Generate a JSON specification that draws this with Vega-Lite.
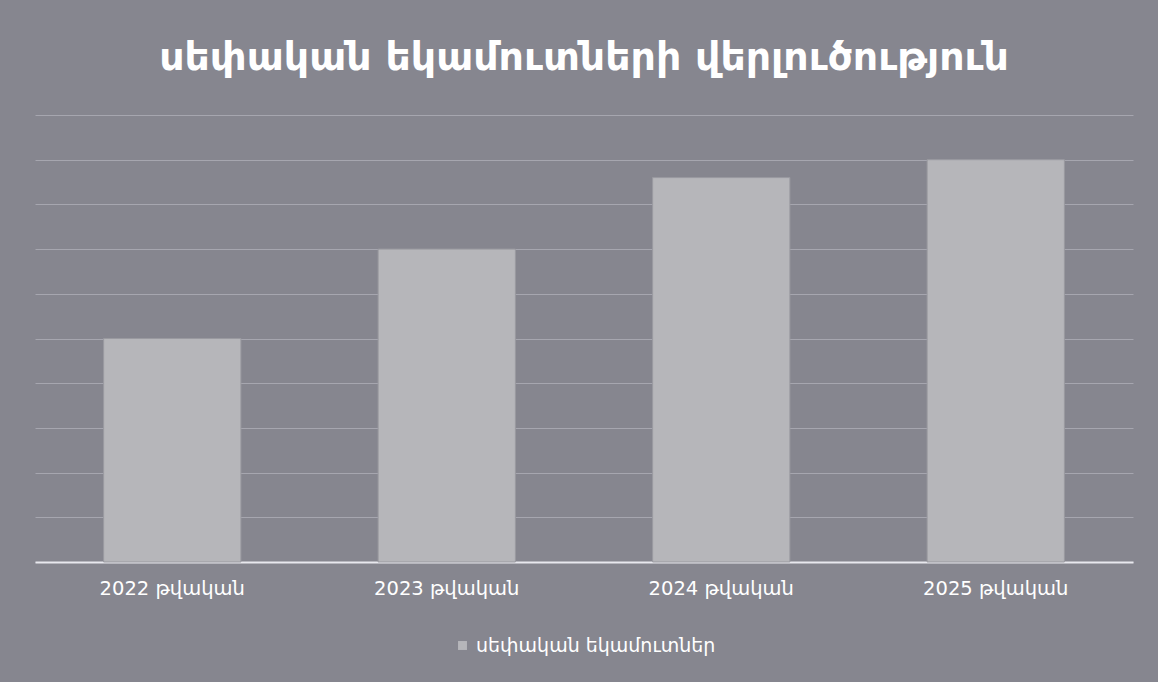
{
  "$schema": "https://vega.github.io/schema/vega-lite/v6.json",
  "autosize": {"type": "none"},
  "width": 1098,
  "height": 447,
  "padding": {"left": 35, "top": 115, "right": 25, "bottom": 120},
  "background": "#86868f",
  "title": {
    "text": "սեփական եկամուտների վերլուծություն",
    "font": "DejaVu Sans",
    "fontSize": 39.5,
    "fontWeight": "bold",
    "color": "#ffffff",
    "anchor": "middle",
    "offset": 37
  },
  "data": {
    "values": [
      {"year": "2022 թվական", "series": "սեփական եկամուտներ", "value": 50},
      {"year": "2023 թվական", "series": "սեփական եկամուտներ", "value": 70},
      {"year": "2024 թվական", "series": "սեփական եկամուտներ", "value": 86},
      {"year": "2025 թվական", "series": "սեփական եկամուտներ", "value": 90}
    ]
  },
  "mark": {"type": "bar", "stroke": "#9a9aa0", "strokeWidth": 1},
  "encoding": {
    "x": {
      "field": "year",
      "type": "nominal",
      "sort": null,
      "title": null,
      "scale": {"paddingInner": 0.5, "paddingOuter": 0.25},
      "axis": {
        "labelAngle": 0,
        "labelFont": "DejaVu Sans",
        "labelFontSize": 19.5,
        "labelColor": "#ffffff",
        "labelPadding": 17,
        "labelLimit": 0,
        "ticks": false,
        "domainColor": "#e8e8ee",
        "domainWidth": 2
      }
    },
    "y": {
      "field": "value",
      "type": "quantitative",
      "title": null,
      "scale": {"domain": [0, 100]},
      "axis": {
        "values": [0, 10, 20, 30, 40, 50, 60, 70, 80, 90, 100],
        "labels": false,
        "ticks": false,
        "domain": false,
        "grid": true,
        "gridColor": "#aeaeb6",
        "gridWidth": 1,
        "gridOpacity": 0.8
      }
    },
    "color": {
      "field": "series",
      "type": "nominal",
      "scale": {"range": ["#b6b6ba"]},
      "legend": {
        "title": null,
        "orient": "bottom",
        "symbolType": "square",
        "symbolSize": 80,
        "symbolStrokeWidth": 0,
        "labelFont": "DejaVu Sans",
        "labelFontSize": 19,
        "labelLimit": 0,
        "labelColor": "#ffffff",
        "offset": 38
      }
    }
  },
  "config": {
    "view": {"stroke": null},
    "legend": {"layout": {"bottom": {"anchor": "middle"}}}
  }
}
